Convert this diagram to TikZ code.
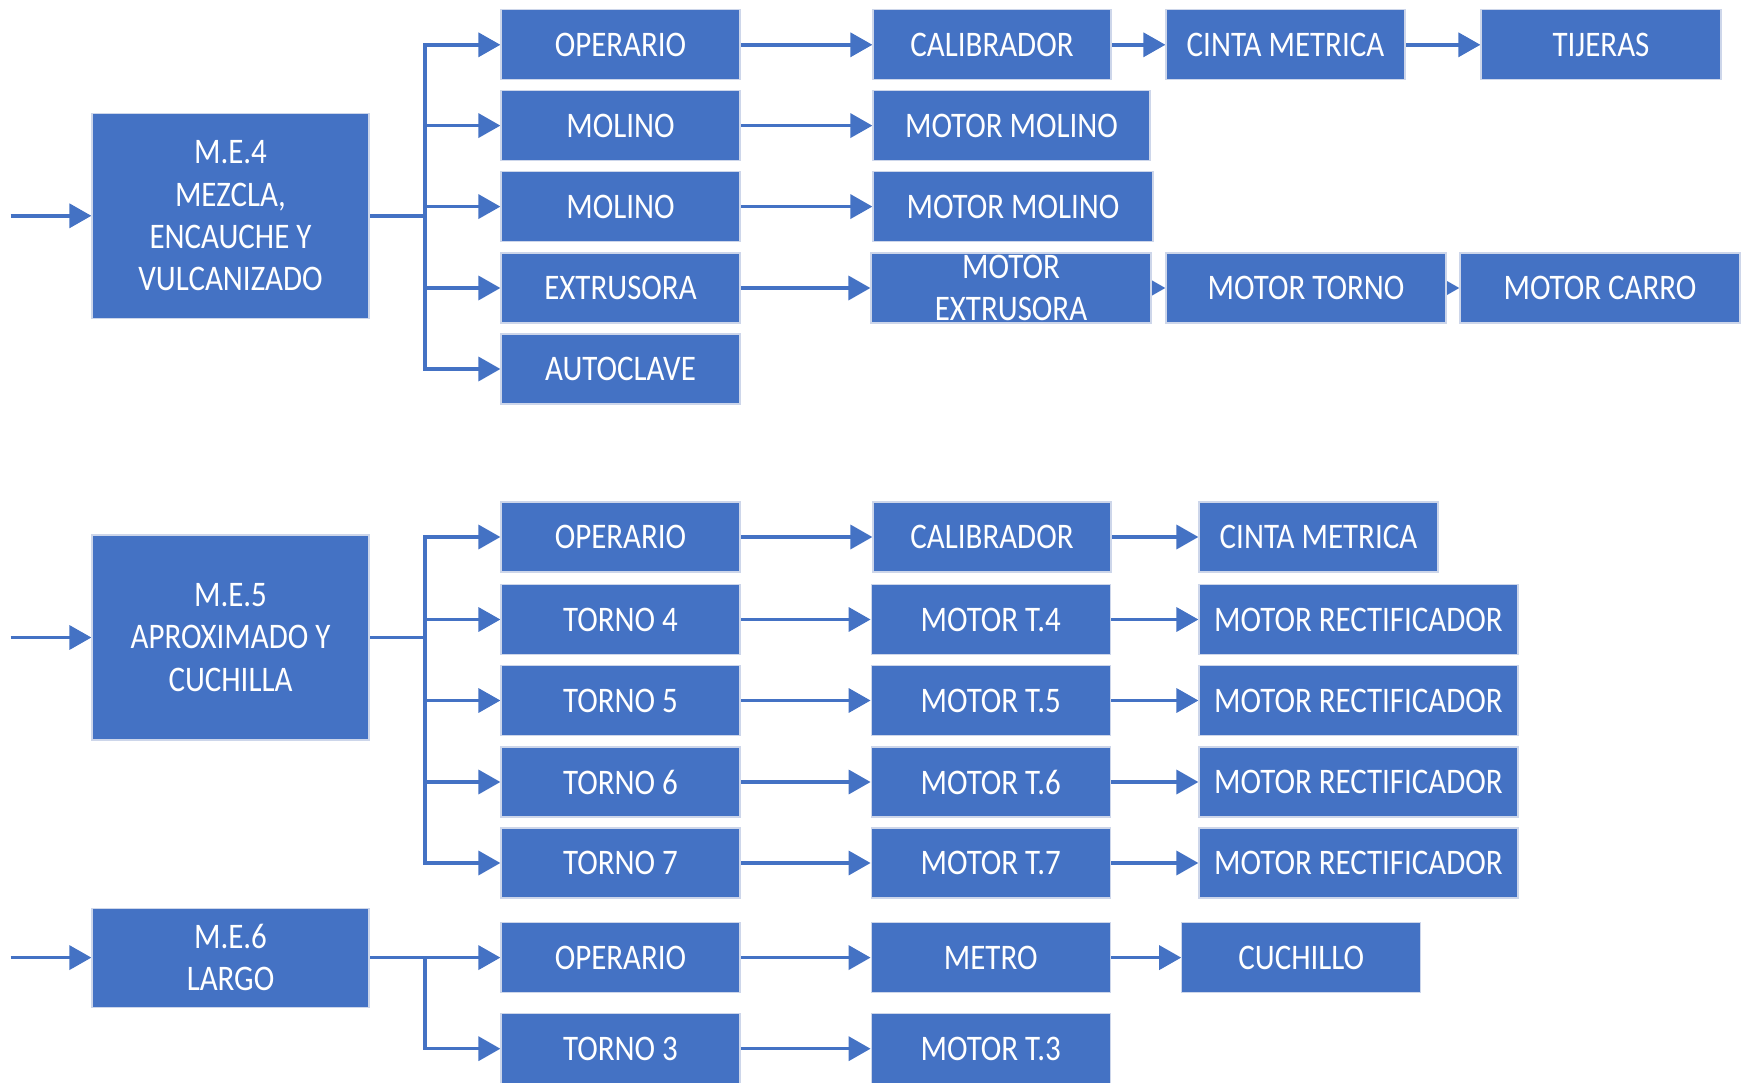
\documentclass[tikz,border=0pt]{standalone}
\usepackage{fontspec}
\setmainfont{Carlito}[FakeStretch=0.86]
\usetikzlibrary{arrows.meta,backgrounds}
\definecolor{boxblue}{HTML}{4472C4}
\definecolor{rimblue}{HTML}{CDD6EA}

\begin{document}
\begin{tikzpicture}[x=1pt,y=-1pt,
  blk/.style={fill=boxblue, draw=rimblue, line width=1.2pt, text=white,
    inner sep=0pt, align=center, font=\fontsize{36}{42.4}\selectfont,
    minimum height=70pt, minimum width=239pt},
  head/.style={blk, minimum width=277pt},
  wide/.style={blk, minimum width=280pt},
  link/.style={draw=boxblue, line width=3.5pt, -{Triangle[length=22pt,width=24pt]}},
  wire/.style={draw=boxblue, line width=3.5pt}
]
\useasboundingbox (0,0) rectangle (1747,1083);

% ---------- M.E.4 ----------
\node[head, minimum height=205pt] (me4) at (230.5,215.8) {M.E.4\\MEZCLA,\\ENCAUCHE Y\\VULCANIZADO};
\node[blk] (op1)  at (620.5,44.8)  {OPERARIO};
\node[blk] (mol1) at (620.5,125.6) {MOLINO};
\node[blk] (mol2) at (620.5,206.6) {MOLINO};
\node[blk] (ext)  at (620.5,288)   {EXTRUSORA};
\node[blk] (auto) at (620.5,369)   {AUTOCLAVE};

\node[blk, minimum width=238pt] (cal1)   at (992,44.8)   {CALIBRADOR};
\node[blk]                      (cinta1) at (1285.5,44.8) {CINTA METRICA};
\node[blk, minimum width=240pt] (tij)    at (1601,44.8)  {TIJERAS};
\node[head]                     (mm1)    at (1011.5,125.6) {MOTOR MOLINO};
\node[wide]                     (mm2)    at (1013,206.6) {MOTOR MOLINO};
\node[wide]                     (mext)   at (1011,288)   {MOTOR\\EXTRUSORA};
\node[wide]                     (mtorno) at (1306,288)   {MOTOR TORNO};
\node[wide]                     (mcarro) at (1600,288)   {MOTOR CARRO};

% ---------- M.E.5 ----------
\node[head, minimum height=205pt] (me5) at (230.5,637.5) {M.E.5\\APROXIMADO Y\\CUCHILLA};
\node[blk] (op2) at (620.5,537)   {OPERARIO};
\node[blk] (t4)  at (620.5,619.5) {TORNO 4};
\node[blk] (t5)  at (620.5,700.5) {TORNO 5};
\node[blk] (t6)  at (620.5,782)   {TORNO 6};
\node[blk] (t7)  at (620.5,863)   {TORNO 7};

\node[blk, minimum width=238pt] (cal2) at (992,537)     {CALIBRADOR};
\node[blk]                      (mt4)  at (990.7,619.5) {MOTOR T.4};
\node[blk]                      (mt5)  at (990.7,700.5) {MOTOR T.5};
\node[blk]                      (mt6)  at (990.7,782)   {MOTOR T.6};
\node[blk]                      (mt7)  at (990.7,863)   {MOTOR T.7};

\node[blk]                      (cinta2) at (1318.5,537)   {CINTA METRICA};
\node[blk, minimum width=319pt] (rec4)   at (1358.5,619.5) {MOTOR RECTIFICADOR};
\node[blk, minimum width=319pt] (rec5)   at (1358.5,700.5) {MOTOR RECTIFICADOR};
\node[blk, minimum width=319pt] (rec6)   at (1358.5,782)   {MOTOR RECTIFICADOR};
\node[blk, minimum width=319pt] (rec7)   at (1358.5,863)   {MOTOR RECTIFICADOR};

% ---------- M.E.6 ----------
\node[head, minimum height=99pt] (me6) at (230.5,957.6) {M.E.6\\LARGO};
\node[blk] (op3) at (620.5,957.6)  {OPERARIO};
\node[blk] (t3)  at (620.5,1048.7) {TORNO 3};
\node[blk] (metro) at (990.7,957.6)  {METRO};
\node[blk] (mt3)   at (990.7,1048.7) {MOTOR T.3};
\node[blk] (cuch)  at (1301.3,957.6) {CUCHILLO};

% ---------- connectors ----------
\coordinate (in4) at (10.7,215.8);
\coordinate (in5) at (10.7,637.5);
\coordinate (in6) at (10.7,957.6);
\coordinate (j4) at (425,215.8);
\coordinate (j5) at (425,637.5);
\coordinate (j6) at (425,957.6);

\begin{scope}[on background layer]
  \draw[link] (in4) -- (me4.west);
  \draw[link] (in5) -- (me5.west);
  \draw[link] (in6) -- (me6.west);

  \draw[wire] (me4.east) -- (j4);
  \foreach \n in {op1,mol1,mol2,ext,auto} \draw[link] (j4) |- (\n.west);
  \draw[wire] (me5.east) -- (j5);
  \foreach \n in {op2,t4,t5,t6,t7} \draw[link] (j5) |- (\n.west);
  \draw[link] (me6.east) -- (op3.west);
  \draw[link] (j6) |- (t3.west);

  \draw[link] (op1.east) -- (cal1.west);
  \draw[link] (cal1.east) -- (cinta1.west);
  \draw[link] (cinta1.east) -- (tij.west);
  \draw[link] (mol1.east) -- (mm1.west);
  \draw[link] (mol2.east) -- (mm2.west);
  \draw[link] (ext.east) -- (mext.west);
  \draw[link] (mext.center) -- (mtorno.west);
  \draw[link] (mtorno.center) -- (mcarro.west);

  \draw[link] (op2.east) -- (cal2.west);
  \draw[link] (cal2.east) -- (cinta2.west);
  \foreach \a/\b/\c in {t4/mt4/rec4,t5/mt5/rec5,t6/mt6/rec6,t7/mt7/rec7}{
    \draw[link] (\a.east) -- (\b.west);
    \draw[link] (\b.east) -- (\c.west);
  }
  \draw[link] (op3.east) -- (metro.west);
  \draw[link] (metro.east) -- (cuch.west);
  \draw[link] (t3.east) -- (mt3.west);
\end{scope}
\end{tikzpicture}
\end{document}
